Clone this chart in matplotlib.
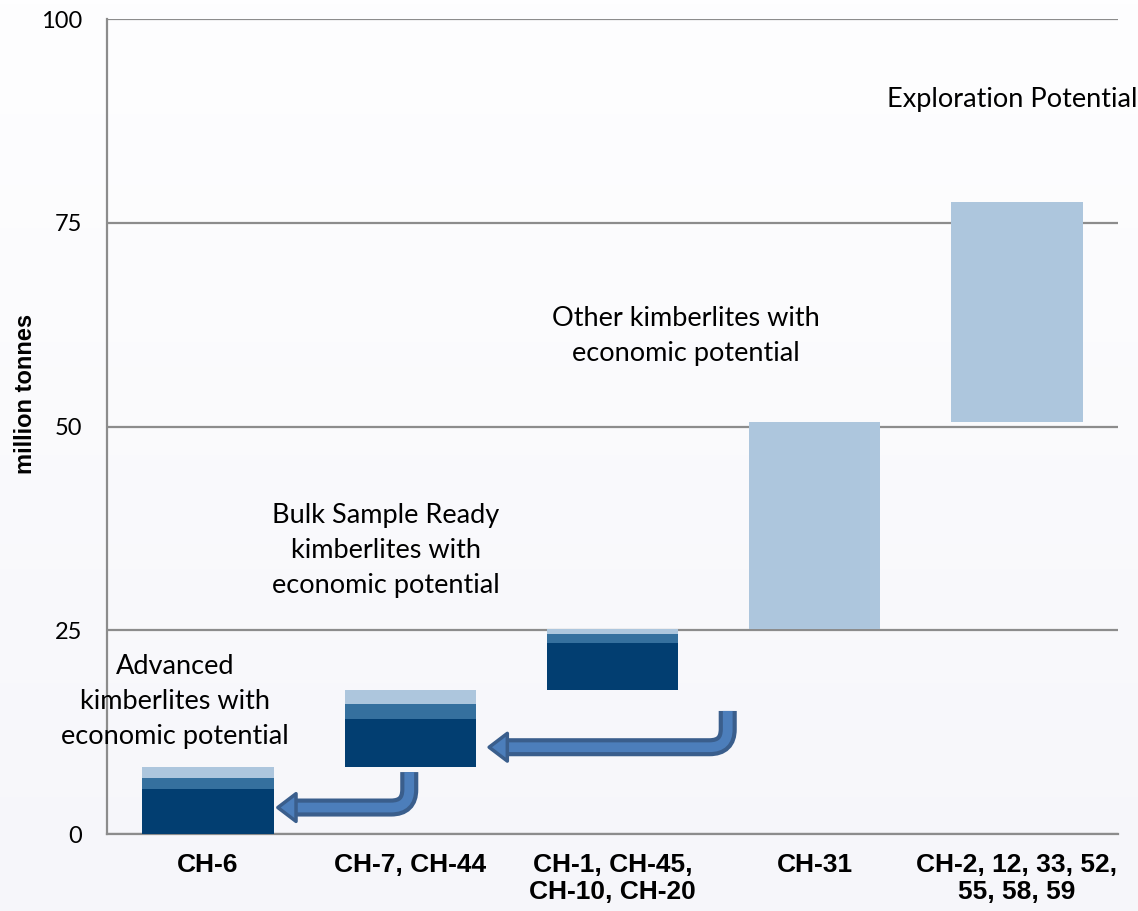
import numpy as np
import matplotlib.pyplot as plt
from matplotlib.path import Path
from matplotlib.patches import PathPatch, Polygon

# pipeline groups, stacked as a waterfall
categories = ["CH-6", "CH-7, CH-44", "CH-1, CH-45,\nCH-10, CH-20", "CH-31",
              "CH-2, 12, 33, 52,\n55, 58, 59"]
base = [0.0, 8.2, 17.65, 25.2, 50.6]
dark = [5.5, 5.9, 5.75, 0.0, 0.0]
medium = [1.35, 1.85, 1.1, 0.0, 0.0]
light = [1.35, 1.7, 0.7, 25.4, 27.0]

stage_labels = ["Advanced\nkimberlites with\neconomic potential",
                "Bulk Sample Ready\nkimberlites with\neconomic potential",
                "Other kimberlites with\neconomic potential",
                "Exploration Potential"]
yticks = [0, 25, 50, 75, 100]

DARK = "#023E71"
MEDIUM = "#35709E"
LIGHT = "#ADC6DD"
ARROW_FILL = "#4C7EBB"
ARROW_EDGE = "#3A5E8C"
TXT_FONT = ["Lato", "DejaVu Sans"]

fig = plt.figure(figsize=(11.38, 9.11), dpi=100)

# soft background wash
bg = fig.add_axes([0, 0, 1, 1], zorder=-10)
grad = np.linspace(0, 1, 256).reshape(-1, 1)
top_c = np.array([0xFE, 0xFE, 0xFF]) / 255
bot_c = np.array([0xF6, 0xF6, 0xFA]) / 255
bg.imshow(top_c + grad[..., None] * (bot_c - top_c), aspect="auto",
          extent=[0, 1, 0, 1])
bg.axis("off")

ax = fig.add_axes([0.094, 0.0845, 0.8884, 0.8946])
ax.patch.set_alpha(0)

x = np.arange(len(categories))
w = 0.65
b = np.array(base)
ax.bar(x, dark, w, bottom=b, color=DARK, zorder=3)
b = b + np.array(dark)
ax.bar(x, medium, w, bottom=b, color=MEDIUM, zorder=3)
b = b + np.array(medium)
ax.bar(x, light, w, bottom=b, color=LIGHT, zorder=3)

ax.set_xlim(-0.5, len(categories) - 0.5)
ax.set_ylim(0, 100)
ax.set_yticks(yticks)
ax.yaxis.grid(True, color="#8C8C8C", lw=1.6, zorder=1)
ax.set_axisbelow(True)
for s in ["top", "right"]:
    ax.spines[s].set_visible(False)
ax.spines["left"].set_color("#8C8C8C")
ax.spines["left"].set_linewidth(1.6)
ax.spines["bottom"].set_color("#8C8C8C")
ax.spines["bottom"].set_linewidth(1.6)
ax.tick_params(axis="both", length=0)
ax.tick_params(axis="y", pad=18)
ax.tick_params(axis="x", pad=14)
ax.set_xticks(x)
ax.set_xticklabels(categories, fontsize=19, fontweight="bold",
                   family="Liberation Sans", linespacing=1.15)
for t in ax.get_yticklabels():
    t.set_fontsize(17)
    t.set_family(TXT_FONT)
ax.set_ylabel("million tonnes", fontsize=17, fontweight="bold",
              family="Liberation Sans")
ax.yaxis.set_label_coords(-0.069, 0.54)


def bent_arrow(xv, ytop, xtip, yh, rx=0.09, ry=2.2):
    # shaft: down from ytop, round the corner, then left towards xtip
    head_len = 0.08
    verts = [(xv, ytop), (xv, yh + ry), (xv, yh), (xv - rx, yh),
             (xtip + head_len, yh)]
    codes = [Path.MOVETO, Path.LINETO, Path.CURVE3, Path.CURVE3, Path.LINETO]
    p = Path(verts, codes)
    ax.add_patch(PathPatch(p, fill=False, ec=ARROW_EDGE, lw=13,
                           capstyle="butt", zorder=4))
    ax.add_patch(PathPatch(p, fill=False, ec=ARROW_FILL, lw=7,
                           capstyle="butt", zorder=5))
    head = Polygon([(xtip, yh), (xtip + head_len + 0.01, yh + 1.7),
                    (xtip + head_len + 0.01, yh - 1.7)], closed=True,
                   fc=ARROW_FILL, ec=ARROW_EDGE, lw=2.5, joinstyle="round",
                   zorder=6)
    ax.add_patch(head)


bent_arrow(x[1] - 0.005, 7.6, x[0] + w / 2 + 0.02, 3.25)
bent_arrow(x[2] + 0.57, 15.1, x[1] + w / 2 + 0.065, 10.65)

label_pos = [(-0.164, 16.3), (0.88, 34.8), (2.363, 61.1), (3.978, 90.1)]
for (lx, ly), s in zip(label_pos, stage_labels):
    ax.text(lx, ly, s, ha="center", va="center", fontsize=19.5,
            family=TXT_FONT, linespacing=1.5, clip_on=False, zorder=7)

fig.savefig("out.png", dpi=100)
